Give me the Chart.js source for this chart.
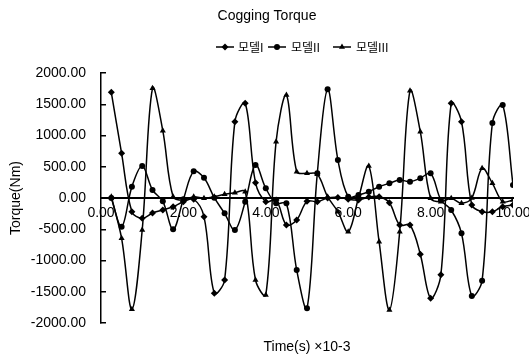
<!DOCTYPE html>
<html>
<head>
<meta charset="utf-8">
<script src="https://cdn.jsdelivr.net/npm/chart.js@4.4.1/dist/chart.umd.min.js"></script>
<style>
  html, body { margin: 0; padding: 0; background: #fff; }
  #chart { display: block; }
</style>
</head>
<body>
<canvas id="chart" width="529" height="359"></canvas>
<script>
var times = [0.25, 0.5, 0.75, 1, 1.25, 1.5, 1.75, 2, 2.25, 2.5,
             2.75, 3, 3.25, 3.5, 3.75, 4, 4.25, 4.5, 4.75, 5,
             5.25, 5.5, 5.75, 6, 6.25, 6.5, 6.75, 7, 7.25, 7.5,
             7.75, 8, 8.25, 8.5, 8.75, 9, 9.25, 9.5, 9.75, 10];

var modelI = [1691, 715, -219, -325, -240, -192, -141, -59, -20, -299,
              -1525, -1312, 1221, 1515, 245, -59, -32, -432, -352, -53,
              -59, 0, 10, -21, -32, 16, 20, -75, -432, -432,
              -900, -1605, -1227, 1515, 1221, -112, -219, -219, -139, -112];

var modelII = [0, -459, 181, 512, 128, -53, -501, -21, 427, 323,
               5, -245, -512, -59, 528, 155, -85, -85, -1152, -1765,
               395, 1740, 608, 20, 48, 101, 181, 235, 288, 261,
               315, 395, -32, -192, -565, -1568, -1323, 1200, 1488, 208];

var modelIII = [20, -645, -1781, -512, 1755, 1077, 21, -35, 21, -5,
                21, 59, 85, 101, -1312, -1552, 901, 1648, 421, 395,
                380, 21, -219, -539, 0, 512, -699, -1792, -539, 1717,
                1061, -5, -59, -5, -85, 0, 475, 235, -59, -32];

var seriesNames = ['모델I', '모델II', '모델III'];
var xTicks = [0, 2, 4, 6, 8, 10];
var yTicks = [-2000, -1500, -1000, -500, 0, 500, 1000, 1500, 2000];
var chartTitle = 'Cogging Torque';

var numFont = { family: '"Liberation Sans", Arial, sans-serif', size: 14 };
var krFont = '12px "Noto Sans CJK KR", "Liberation Sans", sans-serif';

function toPoints(vals) {
    return vals.map(function (v, i) { return { x: times[i], y: v }; });
}

var styles = ['rectRot', 'circle', 'triangle'];
var radii = [3.5, 3, 3.5];
var allSeries = [modelI, modelII, modelIII];

var datasets = allSeries.map(function (vals, i) {
    return {
        label: seriesNames[i],
        data: toPoints(vals),
        showLine: true,
        tension: 0.35,
        borderColor: '#000',
        backgroundColor: '#000',
        borderWidth: 1.5,
        pointStyle: styles[i],
        pointRadius: radii[i],
        pointBorderWidth: 0
    };
});

// title + legend drawn like the excel one (title sits left of the plot centre)
var legendPos = [[216, 238], [268, 291], [333, 356]];
var excelHeader = {
    id: 'excelHeader',
    afterDraw: function (chart) {
        var ctx = chart.ctx;
        ctx.save();
        ctx.fillStyle = '#000';
        ctx.font = '14px "Liberation Sans", Arial, sans-serif';
        ctx.textAlign = 'center';
        ctx.textBaseline = 'middle';
        ctx.fillText(chartTitle, 267, 16);

        var y = 47;
        seriesNames.forEach(function (name, i) {
            var lx = legendPos[i][0];
            ctx.strokeStyle = '#000';
            ctx.lineWidth = 1.5;
            ctx.beginPath();
            ctx.moveTo(lx, y);
            ctx.lineTo(lx + 18, y);
            ctx.stroke();
            Chart.helpers.drawPoint(ctx, { pointStyle: styles[i], radius: radii[i], borderWidth: 0 }, lx + 9, y);
            ctx.font = krFont;
            ctx.textAlign = 'left';
            ctx.fillText(name, legendPos[i][1], y);
        });
        ctx.restore();
    }
};

var ctx = document.getElementById('chart').getContext('2d');
var chart = new Chart(ctx, {
    type: 'scatter',
    data: { datasets: datasets },
    plugins: [excelHeader],
    options: {
        responsive: false,
        animation: false,
        layout: { padding: { left: 0, right: 16, top: 73, bottom: 0 } },
        plugins: {
            legend: { display: false },
            tooltip: { enabled: false },
            title: { display: false }
        },
        scales: {
            x: {
                type: 'linear',
                position: { y: 0 },
                min: 0,
                max: 10,
                afterBuildTicks: function (scale) {
                    scale.ticks = xTicks.map(function (v) { return { value: v }; });
                },
                // last label is allowed to run off the edge, like the excel original
                afterFit: function (scale) {
                    scale.paddingLeft = 0;
                    scale.paddingRight = 0;
                },
                ticks: {
                    color: '#000',
                    font: numFont,
                    padding: 7,
                    maxRotation: 0,
                    callback: function (v) { return Number(v).toFixed(2); }
                },
                grid: { display: true, drawOnChartArea: false, drawTicks: false },
                border: { color: '#000', width: 2 }
            },
            x2: {
                type: 'linear',
                position: 'bottom',
                min: 0,
                max: 10,
                ticks: { display: false },
                grid: { display: false },
                border: { display: false },
                title: {
                    display: true,
                    text: 'Time(s) ×10-3',
                    color: '#000',
                    font: numFont,
                    padding: { top: 0, bottom: 3.6 }
                },
                afterFit: function (scale) { scale.height = 36; }
            },
            y: {
                type: 'linear',
                min: -2000,
                max: 2000,
                afterBuildTicks: function (scale) {
                    scale.ticks = yTicks.map(function (v) { return { value: v }; });
                },
                ticks: {
                    color: '#000',
                    font: numFont,
                    padding: 20,
                    callback: function (v) { return Number(v).toFixed(2); }
                },
                grid: { display: true, drawOnChartArea: false, drawTicks: true, tickLength: -5, color: '#000', lineWidth: 1.5 },
                border: { color: '#000', width: 1.5 },
                title: {
                    display: true,
                    text: 'Torque(Nm)',
                    color: '#000',
                    font: numFont,
                    padding: { top: 7.6, bottom: 0 }
                },
                afterFit: function (scale) { scale.width = 101; }
            }
        }
    }
});
</script>
</body>
</html>
